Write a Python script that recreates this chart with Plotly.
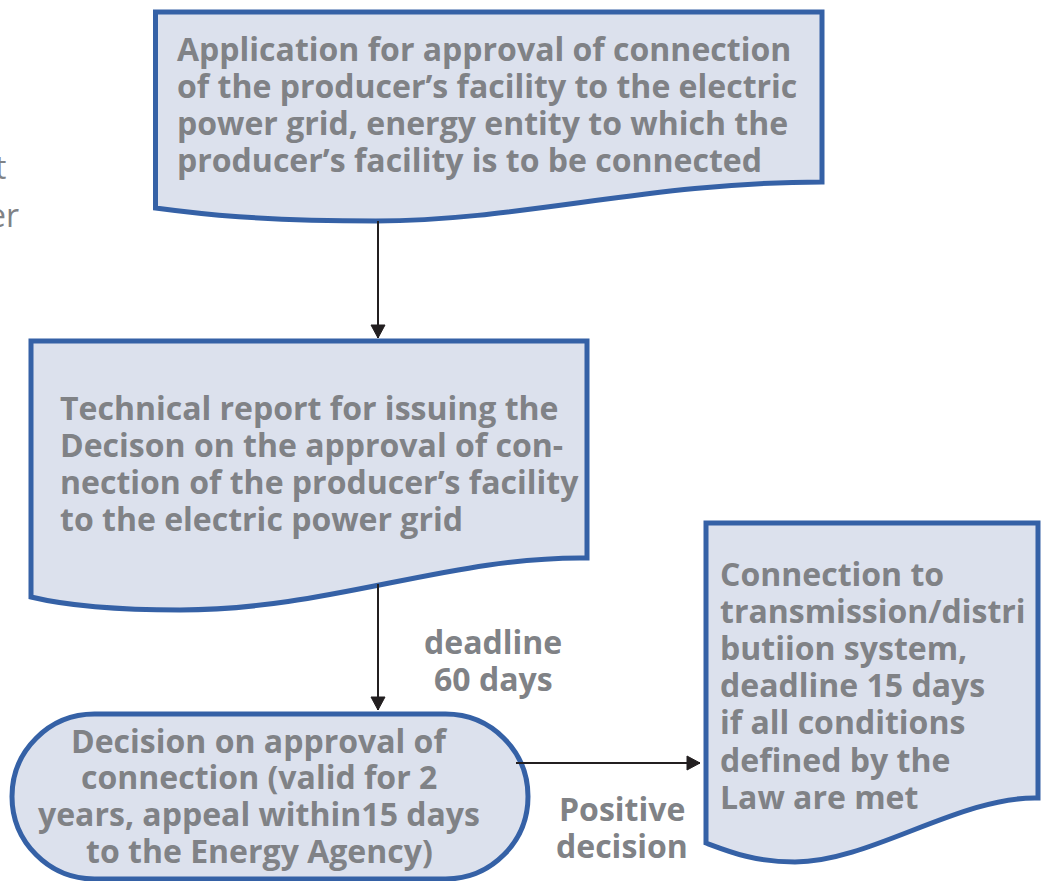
import plotly.graph_objects as go

# ---- text content ----
box1_lines = ["Application for approval of connection",
              "of the producer\u2019s facility to the electric",
              "power grid, energy entity to which the",
              "producer\u2019s facility is to be connected"]
box2_lines = ["Technical report for issuing the",
              "Decison on the approval of con-",
              "nection of the producer\u2019s facility",
              "to the electric power grid"]
box3_lines = ["Connection to",
              "transmission/distri",
              "butiion system,",
              "deadline 15 days",
              "if all conditions",
              "defined by the",
              "Law are met"]
term_lines = ["Decision on approval of",
              "connection (valid for 2",
              "years, appeal within15 days",
              "to the Energy Agency)"]
deadline_lines = ["deadline", "60 days"]
positive_lines = ["Positive", "decision"]
edge_fragments = ["t", "er"]

# ---- style ----
FILL = "#dce1ed"
BORDER = "#3561a6"
TEXT = "#808286"
ARROW = "#231f20"
FONT = "Open Sans"
FS = 32
LH = 37.2

W, H = 1042, 881

fig = go.Figure()
shapes = []
annotations = []


def doc_path(L, R, T, yr, c1, c2, trough, c3, c4, yl):
    return (f"M {L},{T} L {R},{T} L {R},{yr} "
            f"C {c1[0]},{c1[1]} {c2[0]},{c2[1]} {trough[0]},{trough[1]} "
            f"C {c3[0]},{c3[1]} {c4[0]},{c4[1]} {L},{yl} Z")


def stadium_path(L, R, T, B):
    r = (B - T) / 2
    cy = (T + B) / 2
    k = 0.5523 * r
    return (f"M {L + r},{T} L {R - r},{T} "
            f"C {R - r + k},{T} {R},{cy - k} {R},{cy} "
            f"C {R},{cy + k} {R - r + k},{B} {R - r},{B} "
            f"L {L + r},{B} "
            f"C {L + r - k},{B} {L},{cy + k} {L},{cy} "
            f"C {L},{cy - k} {L + r - k},{T} {L + r},{T} Z")


def add_shape(path):
    shapes.append(dict(type="path", path=path, xref="x", yref="y",
                       fillcolor=FILL, line=dict(color=BORDER, width=5)))


# document boxes
add_shape(doc_path(155.5, 822, 12, 182, (650, 182), (520, 221), (376, 221),
                   (260, 221), (200, 214), 208))
add_shape(doc_path(31, 587, 341, 558, (450, 556), (330, 610), (180, 610),
                   (100, 610), (60, 604), 597))
add_shape(doc_path(706, 1038, 523, 798, (960, 796), (870, 862), (795, 862),
                   (755, 862), (730, 852), 843))
# terminator
add_shape(stadium_path(12, 528, 714, 879))


def arrow(x0, y0, x1, y1):
    shapes.append(dict(type="line", x0=x0, y0=y0, x1=x1, y1=y1, xref="x", yref="y",
                       line=dict(color=ARROW, width=2)))
    hl, hw = 13, 7
    if x0 == x1:
        s = 1 if y1 > y0 else -1
        p = f"M {x1},{y1} L {x1 - hw},{y1 - s * hl} L {x1 + hw},{y1 - s * hl} Z"
    else:
        s = 1 if x1 > x0 else -1
        p = f"M {x1},{y1} L {x1 - s * hl},{y1 - hw} L {x1 - s * hl},{y1 + hw} Z"
    shapes.append(dict(type="path", path=p, xref="x", yref="y",
                       fillcolor=ARROW, line=dict(color=ARROW, width=1)))


arrow(378, 221, 378, 338)
arrow(378, 584, 378, 710)
arrow(516, 763, 700, 763)


def add_lines(lines, x, y0, anchor="left", size=FS, lh=LH):
    for i, t in enumerate(lines):
        annotations.append(dict(x=x, y=y0 + i * lh, xref="x", yref="y", text=t,
                                showarrow=False, xanchor=anchor, yanchor="middle",
                                font=dict(family=FONT, size=size, color=TEXT, weight="bold")))


add_lines(box1_lines, 175, 48)
add_lines(box2_lines, 58, 407)
add_lines(box3_lines, 718, 573)
add_lines(term_lines, 259, 740, anchor="center", lh=36.7)
add_lines(deadline_lines, 493, 641, anchor="center")
add_lines(positive_lines, 622, 808, anchor="center")
annotations.append(dict(x=8, y=166, xref="x", yref="y", text=edge_fragments[0], showarrow=False,
                        xanchor="right", yanchor="middle",
                        font=dict(family=FONT, size=FS, color=TEXT)))
annotations.append(dict(x=21, y=214, xref="x", yref="y", text=edge_fragments[1], showarrow=False,
                        xanchor="right", yanchor="middle",
                        font=dict(family=FONT, size=FS, color=TEXT)))

fig.update_layout(
    width=W, height=H, margin=dict(l=0, r=0, t=0, b=0),
    paper_bgcolor="white", plot_bgcolor="white",
    xaxis=dict(range=[0, W], visible=False, fixedrange=True),
    yaxis=dict(range=[H, 0], visible=False, fixedrange=True),
    shapes=shapes, annotations=annotations, showlegend=False,
)
fig.write_html("out.html", config={"displayModeBar": False},
               post_script="document.body.style.margin='0';")
